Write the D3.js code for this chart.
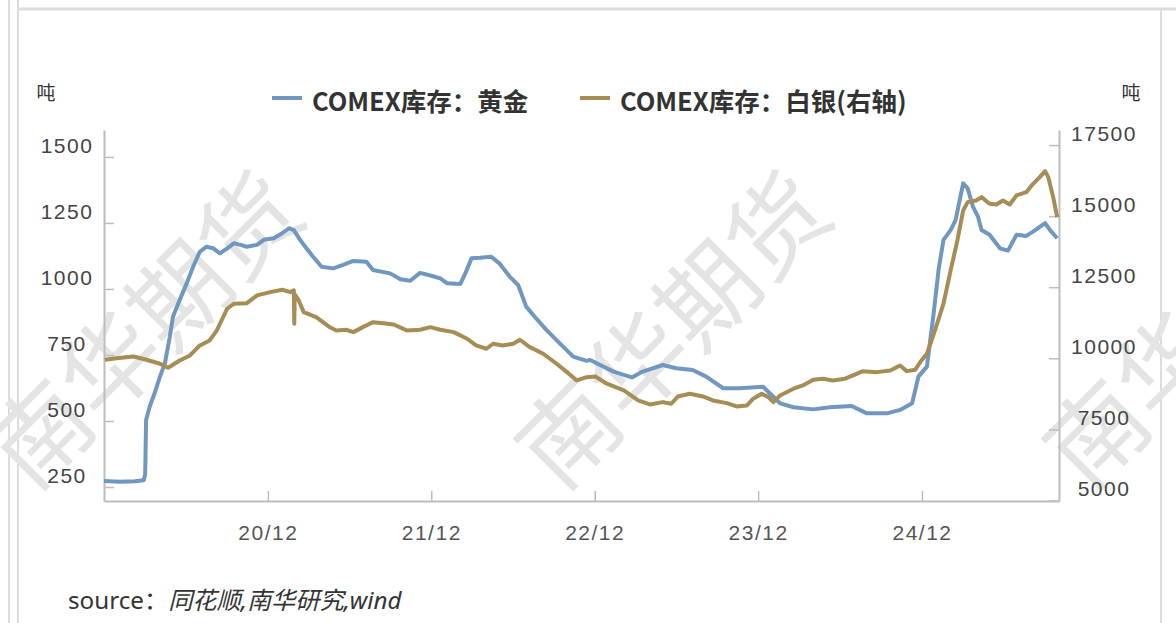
<!DOCTYPE html>
<html>
<head>
<meta charset="utf-8">
<script src="https://cdn.jsdelivr.net/npm/d3@7"></script>
<style>
    body { margin: 0; background: #fff; }
    svg { display: block; font-family: "Noto Sans", "Noto Sans CJK SC", sans-serif; }
</style>
</head>
<body>
<svg id="chartSvg" width="1176" height="623"></svg>
<script>
// COMEX inventories (tonnes): gold on the left axis, silver on the right axis.
const goldDates = [
    "2019-12-01", "2020-01-06", "2020-02-08", "2020-02-28", "2020-03-02", "2020-03-04", "2020-03-12", "2020-03-23",
    "2020-04-04", "2020-04-15", "2020-04-26", "2020-05-03", "2020-05-18", "2020-06-03", "2020-06-17", "2020-07-02",
    "2020-07-17", "2020-08-01", "2020-08-16", "2020-09-01", "2020-09-16", "2020-10-01", "2020-10-15", "2020-11-07",
    "2020-11-22", "2020-12-14", "2021-01-02", "2021-01-17", "2021-01-28", "2021-02-11", "2021-02-25", "2021-03-12",
    "2021-03-31", "2021-04-26", "2021-05-18", "2021-06-10", "2021-07-09", "2021-07-24", "2021-08-31", "2021-09-23",
    "2021-10-15", "2021-11-06", "2021-11-29", "2021-12-21", "2022-01-05", "2022-02-04", "2022-02-15", "2022-03-01",
    "2022-03-19", "2022-04-14", "2022-05-02", "2022-05-25", "2022-06-13", "2022-07-01", "2022-07-20", "2022-08-15",
    "2022-09-14", "2022-10-14", "2022-11-13", "2022-11-21", "2022-12-13", "2023-01-12", "2023-02-22", "2023-03-18",
    "2023-05-02", "2023-06-01", "2023-07-08", "2023-08-07", "2023-09-14", "2023-10-21", "2023-12-12", "2023-12-27",
    "2024-01-19", "2024-02-18", "2024-04-02", "2024-05-09", "2024-06-27", "2024-07-31", "2024-09-14", "2024-10-13",
    "2024-11-09", "2024-11-23", "2024-12-12", "2024-12-27", "2025-01-07", "2025-01-18", "2025-02-03", "2025-02-14",
    "2025-03-03", "2025-03-13", "2025-03-25", "2025-04-05", "2025-04-13", "2025-05-01", "2025-05-24", "2025-06-11",
    "2025-06-30", "2025-07-22", "2025-08-06", "2025-09-02", "2025-09-13", "2025-09-29"
];
const goldTonnes = [
    273, 270, 272, 276, 300, 504, 554, 605,
    668, 718, 819, 895, 958, 1022, 1084, 1141,
    1160, 1154, 1135, 1154, 1173, 1167, 1160, 1167,
    1186, 1192, 1211, 1230, 1223, 1186, 1154, 1122,
    1084, 1078, 1091, 1106, 1103, 1072, 1059, 1037,
    1031, 1061, 1051, 1040, 1022, 1019, 1059, 1116,
    1118, 1122, 1097, 1047, 1015, 933, 895, 845,
    794, 744, 728, 731, 712, 687, 665, 687,
    712, 700, 693, 668, 624, 624, 630, 605,
    567, 552, 544, 552, 557, 529, 529, 542,
    567, 668, 706, 908, 1072, 1186, 1223, 1261,
    1400, 1381, 1311, 1274, 1223, 1205, 1154, 1145,
    1205, 1201, 1217, 1249, 1223, 1192
];
const silverDates = [
    "2019-12-03", "2019-12-29", "2020-02-05", "2020-03-05", "2020-04-04", "2020-04-22", "2020-05-18", "2020-06-10",
    "2020-07-02", "2020-07-24", "2020-08-09", "2020-09-01", "2020-09-16", "2020-10-15", "2020-11-07", "2020-12-06",
    "2021-01-02", "2021-01-20", "2021-01-28", "2021-01-29", "2021-01-30", "2021-02-08", "2021-02-19", "2021-03-19",
    "2021-04-18", "2021-05-03", "2021-05-25", "2021-06-10", "2021-07-01", "2021-07-24", "2021-08-16", "2021-09-08",
    "2021-10-07", "2021-11-06", "2021-11-29", "2021-12-21", "2022-01-20", "2022-02-19", "2022-03-11", "2022-04-03",
    "2022-04-18", "2022-05-10", "2022-06-02", "2022-06-17", "2022-07-09", "2022-08-08", "2022-09-07", "2022-09-30",
    "2022-10-22", "2022-11-13", "2022-12-02", "2022-12-28", "2023-02-04", "2023-03-08", "2023-04-03", "2023-05-02",
    "2023-05-21", "2023-06-05", "2023-07-01", "2023-07-31", "2023-08-22", "2023-09-22", "2023-10-14", "2023-11-06",
    "2023-11-20", "2023-12-09", "2023-12-24", "2024-01-04", "2024-01-19", "2024-02-18", "2024-03-10", "2024-04-02",
    "2024-04-24", "2024-05-16", "2024-06-12", "2024-06-30", "2024-07-22", "2024-08-22", "2024-09-21", "2024-10-13",
    "2024-10-28", "2024-11-16", "2024-11-27", "2024-12-12", "2024-12-30", "2025-01-18", "2025-02-03", "2025-02-18",
    "2025-03-03", "2025-03-13", "2025-04-01", "2025-04-13", "2025-05-01", "2025-05-16", "2025-05-31", "2025-06-15",
    "2025-06-30", "2025-07-22", "2025-08-03", "2025-08-21", "2025-09-02", "2025-09-09", "2025-09-20", "2025-09-29"
];
const silverTonnes = [
    9949, 10005, 10065, 9949, 9808, 9668, 9924, 10100,
    10452, 10628, 10980, 11743, 11919, 11940, 12211, 12327,
    12411, 12327, 12387, 11215, 12250, 12035, 11623, 11447,
    11096, 10980, 11004, 10920, 11096, 11271, 11236, 11190,
    10980, 11004, 11096, 11004, 10920, 10687, 10452, 10335,
    10511, 10452, 10511, 10652, 10393, 10160, 9808, 9513,
    9221, 9337, 9362, 9105, 8869, 8517, 8377, 8458,
    8401, 8658, 8753, 8658, 8517, 8424, 8306, 8341,
    8577, 8753, 8634, 8458, 8693, 8929, 9045, 9245,
    9281, 9221, 9281, 9397, 9548, 9513, 9573, 9749,
    9548, 9597, 9865, 10160, 10980, 11919, 13090, 14146,
    15201, 15493, 15552, 15669, 15436, 15411, 15552, 15411,
    15728, 15844, 16080, 16372, 16583, 16372, 15669, 14965
];
const leftTicks = [250, 500, 750, 1000, 1250, 1500];
const rightTicks = [5000, 7500, 10000, 12500, 15000, 17500];
const xTickDates = ["2020-12-01", "2021-12-01", "2022-12-01", "2023-12-01", "2024-12-01"];
const xTickLabels = ["20/12", "21/12", "22/12", "23/12", "24/12"];
const seriesNames = ["COMEX库存：黄金", "COMEX库存：白银(右轴)"];

const colors = ["#7097bf", "#a68c55"];
const margin = { top: 130, right: 117, bottom: 122, left: 104 };
const width = 1176;
const height = 623;
const innerWidth = width - margin.left - margin.right;
const innerHeight = height - margin.top - margin.bottom;
const parseDate = d3.timeParse("%Y-%m-%d");

const gold = goldDates.map((d, i) => ({ date: parseDate(d), value: goldTonnes[i] }));
const silver = silverDates.map((d, i) => ({ date: parseDate(d), value: silverTonnes[i] }));

const svg = d3.select("#chartSvg");

// card frame
svg.append("line").attr("x1", 9).attr("x2", 9).attr("y1", 0).attr("y2", height)
    .attr("stroke", "#dcdcdc").attr("stroke-width", 2);
svg.append("line").attr("x1", 18).attr("x2", 18).attr("y1", 0).attr("y2", height)
    .attr("stroke", "#dcdcdc").attr("stroke-width", 2);
svg.append("line").attr("x1", 18).attr("x2", width).attr("y1", 9).attr("y2", 9)
    .attr("stroke", "#dcdcdc").attr("stroke-width", 3);
svg.append("line").attr("x1", 1161).attr("x2", 1161).attr("y1", 9).attr("y2", height)
    .attr("stroke", "#dcdcdc").attr("stroke-width", 2);

// watermark
const wm = svg.append("g");
[140, 668, 1196].forEach(cx => {
    wm.append("text")
        .attr("transform", `translate(${cx},325) rotate(-45)`)
        .attr("text-anchor", "middle")
        .attr("dominant-baseline", "central")
        .style("font-family", "'Noto Sans CJK SC'")
        .style("font-size", "98px")
        .attr("fill", "#e4e4e4")
        .text("南华期货");
});

const x = d3.scaleTime()
    .domain([parseDate("2019-12-01"), parseDate("2025-10-03")])
    .range([0, innerWidth]);

const yLeft = d3.scaleLinear().domain([197, 1602]).range([innerHeight, 0]);
const yRight = d3.scaleLinear().domain([4980, 18030]).range([innerHeight, 0]);

const g = svg.append("g").attr("transform", `translate(${margin.left},${margin.top})`);

function styleAxis(sel) {
    sel.select(".domain").attr("stroke", "#bdbdbd").attr("stroke-width", 2);
    sel.selectAll(".tick line").attr("stroke", "#bdbdbd").attr("stroke-width", 1.5);
    sel.selectAll(".tick text")
        .style("font-size", "21px")
        .style("letter-spacing", "1.5px")
        .attr("fill", "#444");
}

const leftAxis = g.append("g")
    .call(d3.axisLeft(yLeft).tickValues(leftTicks).tickFormat(d3.format("d"))
        .tickSize(-10).tickSizeOuter(0));
styleAxis(leftAxis);
leftAxis.selectAll(".tick text")
    .attr("x", -37).attr("dy", "-12").attr("text-anchor", "middle")
    .attr("dominant-baseline", "central");

const rightAxis = g.append("g")
    .attr("transform", `translate(${innerWidth},0)`)
    .call(d3.axisRight(yRight).tickValues(rightTicks).tickFormat(d3.format("d"))
        .tickSize(-10).tickSizeOuter(0));
styleAxis(rightAxis);
rightAxis.selectAll(".tick text")
    .attr("x", 45).attr("dy", "-12").attr("text-anchor", "middle")
    .attr("dominant-baseline", "central");

const bottomAxis = g.append("g")
    .attr("transform", `translate(0,${innerHeight})`)
    .call(d3.axisBottom(x)
        .tickValues(xTickDates.map(parseDate))
        .tickFormat((d, i) => xTickLabels[i])
        .tickSize(-10).tickSizeOuter(0));
styleAxis(bottomAxis);
bottomAxis.selectAll(".tick text")
    .attr("y", 31).attr("dy", null).attr("dominant-baseline", "central")
    .attr("fill", "#555");

// series lines
const goldLine = d3.line().x(d => x(d.date)).y(d => yLeft(d.value));
const silverLine = d3.line().x(d => x(d.date)).y(d => yRight(d.value));

g.append("path").datum(gold)
    .attr("fill", "none").attr("stroke", colors[0]).attr("stroke-width", 4)
    .attr("stroke-linejoin", "round")
    .attr("d", goldLine);

g.append("path").datum(silver)
    .attr("fill", "none").attr("stroke", colors[1]).attr("stroke-width", 4)
    .attr("stroke-linejoin", "round")
    .attr("d", silverLine);

// unit labels
svg.append("text").attr("x", 46).attr("y", 93)
    .attr("text-anchor", "middle").attr("dominant-baseline", "central")
    .style("font-size", "19px").attr("fill", "#333").text("吨");
svg.append("text").attr("x", 1131).attr("y", 93)
    .attr("text-anchor", "middle").attr("dominant-baseline", "central")
    .style("font-size", "19px").attr("fill", "#333").text("吨");

// legend
const legendX = [272, 580];
const legend = svg.append("g");
seriesNames.forEach((name, i) => {
    legend.append("line")
        .attr("x1", legendX[i]).attr("x2", legendX[i] + 30)
        .attr("y1", 98).attr("y2", 98)
        .attr("stroke", colors[i]).attr("stroke-width", 4);
    legend.append("text")
        .attr("x", legendX[i] + 40).attr("y", 99)
        .attr("dominant-baseline", "central")
        .style("font-family", "'Noto Sans CJK SC'")
        .style("font-size", "25.5px")
        .style("font-weight", "bold")
        .attr("fill", "#333")
        .text(name);
});

// source note
const source = svg.append("text").attr("x", 68).attr("y", 599)
    .attr("dominant-baseline", "central")
    .style("font-size", "24.2px").attr("fill", "#333");
source.append("tspan").text("source：");
source.append("tspan").style("font-style", "italic").text("同花顺,南华研究,wind");
</script>
</body>
</html>
